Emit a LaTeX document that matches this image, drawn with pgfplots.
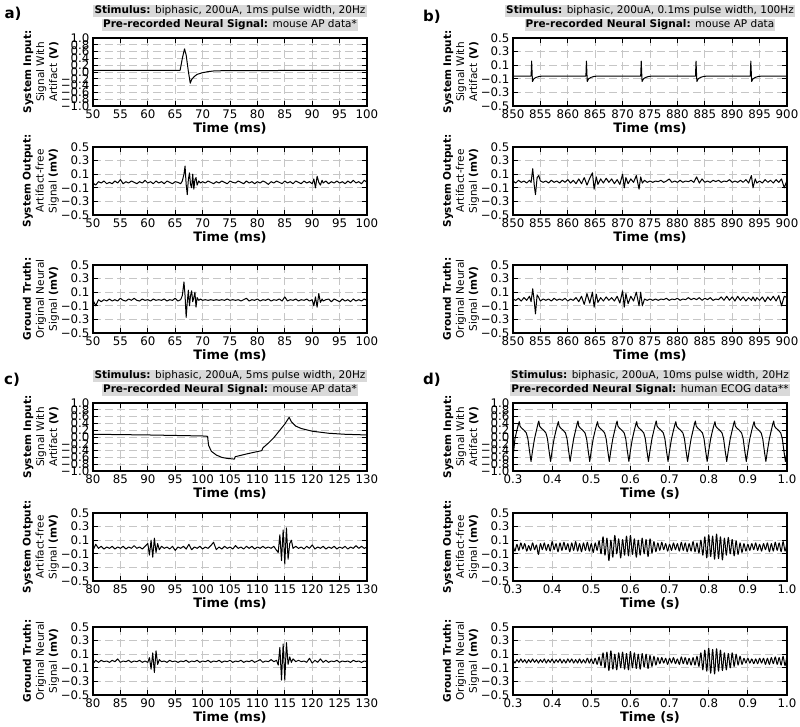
\documentclass[border=0pt]{standalone}
\usepackage{pgfplots}
\pgfplotsset{compat=1.18}
\usepackage{pgfplotstable}
\usepackage{fontspec}
\setmainfont{DejaVu Sans}

% panel a: output / ground truth (mV)
\pgfplotstableread{
t out gt
50.0 -0.03 -0.02
50.5 -0.06 -0.10
51.0 -0.01 -0.01
51.5 -0.03 -0.04
52.0 0.00 -0.01
52.5 -0.04 -0.03
53.0 -0.02 0.00
53.5 -0.04 -0.03
54.0 0.00 -0.01
54.5 -0.03 -0.03
55.0 0.02 0.01
55.5 -0.04 -0.02
56.0 -0.01 -0.03
56.5 -0.03 0.00
57.0 0.00 -0.02
57.5 -0.02 0.01
58.0 -0.04 -0.02
58.5 -0.01 -0.03
59.0 -0.03 0.00
59.5 0.01 -0.02
60.0 -0.03 -0.01
60.5 -0.01 -0.03
61.0 -0.04 0.00
61.5 0.00 -0.02
62.0 -0.03 -0.01
62.5 -0.01 -0.02
63.0 -0.04 0.00
63.5 0.00 -0.03
64.0 -0.02 -0.01
64.5 -0.04 -0.02
65.0 -0.01 0.01
65.5 -0.02 -0.03
66.0 -0.04 -0.01
66.3 0.00 0.05
66.6 0.10 0.25
66.8 0.22 0.05
67.0 -0.05 -0.27
67.2 -0.20 -0.05
67.4 0.02 0.13
67.6 0.12 -0.10
67.8 -0.05 0.05
68.0 -0.10 0.12
68.2 0.10 -0.04
68.4 -0.12 0.02
68.6 0.02 0.10
68.8 0.05 -0.12
69.0 -0.06 0.02
69.3 0.00 -0.02
69.6 -0.03 0.00
70.0 -0.01 -0.02
70.5 -0.03 -0.01
71.0 0.00 -0.02
71.5 -0.02 -0.01
72.0 -0.04 -0.02
72.5 -0.01 -0.01
73.0 -0.03 -0.02
73.5 0.00 -0.01
74.0 -0.02 -0.02
74.5 -0.04 0.00
75.0 0.00 -0.02
75.5 -0.02 -0.01
76.0 -0.03 -0.02
76.5 0.00 -0.01
77.0 -0.02 -0.03
77.5 -0.04 -0.01
78.0 0.00 0.01
78.5 -0.03 -0.03
79.0 -0.01 -0.01
79.5 -0.04 -0.02
80.0 -0.01 0.00
80.5 -0.03 -0.03
81.0 0.00 -0.01
81.5 -0.02 -0.02
82.0 -0.05 0.00
82.5 -0.01 -0.03
83.0 -0.03 -0.01
83.5 0.00 -0.02
84.0 -0.02 0.00
84.5 -0.04 -0.03
85.0 0.00 0.03
85.5 -0.03 -0.03
86.0 -0.01 -0.01
86.5 -0.04 -0.02
87.0 0.00 0.00
87.5 -0.02 -0.03
88.0 -0.04 -0.01
88.5 0.00 -0.02
89.0 -0.03 0.00
89.5 -0.01 -0.03
90.0 -0.04 -0.01
90.3 0.03 -0.10
90.6 -0.10 0.03
90.9 0.07 -0.12
91.2 -0.02 0.08
91.5 -0.06 -0.05
91.8 0.01 0.00
92.0 -0.03 -0.03
92.5 0.00 -0.01
93.0 -0.04 0.00
93.5 -0.01 -0.04
94.0 -0.03 0.00
94.5 0.00 -0.02
95.0 -0.03 -0.04
95.5 -0.01 0.00
96.0 -0.04 -0.03
96.5 0.00 -0.01
97.0 -0.03 -0.04
97.5 0.01 0.00
98.0 -0.03 -0.03
98.5 -0.01 -0.01
99.0 -0.04 -0.03
99.5 0.01 0.00
100.0 -0.02 -0.02
}\tabA

% panel b
\pgfplotstableread{
t out gt
850.0 0.00 0.00
850.5 -0.03 -0.02
851.0 0.01 0.01
851.5 -0.02 -0.03
852.0 0.00 0.02
852.5 -0.03 -0.02
853.0 0.01 0.04
853.3 -0.02 -0.04
853.6 0.18 0.15
853.9 -0.08 -0.05
854.1 -0.20 -0.22
854.4 0.05 0.06
854.7 0.08 0.02
855.0 0.00 -0.03
855.5 -0.02 0.00
856.0 0.00 -0.02
856.5 -0.03 0.00
857.0 0.01 -0.03
857.5 -0.02 0.01
858.0 0.00 -0.02
858.5 -0.03 0.00
859.0 0.01 -0.02
859.5 -0.02 0.01
860.0 0.02 -0.03
860.5 -0.03 0.00
861.0 0.01 -0.02
861.5 -0.04 0.02
862.0 0.03 -0.04
862.5 -0.04 0.04
863.0 0.05 -0.08
863.5 -0.06 0.08
864.0 0.04 -0.06
864.5 0.12 0.10
864.8 -0.12 -0.12
865.2 0.06 0.07
865.5 -0.05 -0.05
866.0 0.03 0.02
866.5 -0.03 -0.03
867.0 0.04 0.03
867.5 -0.02 -0.02
868.0 0.03 0.02
868.5 -0.04 -0.03
869.0 0.02 0.04
869.5 -0.05 -0.06
870.0 0.10 0.12
870.3 -0.10 -0.12
870.6 0.05 0.08
871.0 -0.04 -0.07
871.5 0.03 0.04
872.0 -0.02 -0.03
872.5 0.08 0.10
873.0 -0.12 -0.10
873.3 0.06 0.10
873.6 -0.03 -0.10
874.0 0.01 0.00
874.5 -0.02 -0.02
875.0 0.00 0.00
875.5 -0.02 -0.02
876.0 0.00 0.00
876.5 -0.01 -0.02
877.0 0.01 0.00
877.5 -0.02 -0.01
878.0 0.00 0.01
878.5 0.03 -0.02
879.0 -0.02 0.00
879.5 0.00 -0.01
880.0 -0.02 0.01
880.5 0.01 -0.02
881.0 -0.02 0.00
881.5 0.00 -0.01
882.0 -0.01 0.02
882.5 0.01 -0.01
883.0 -0.02 0.01
883.5 0.06 -0.01
884.0 -0.03 0.02
884.5 0.03 -0.02
885.0 -0.02 0.01
885.5 0.00 -0.01
886.0 -0.02 0.02
886.5 0.01 -0.02
887.0 -0.01 0.00
887.5 0.01 -0.01
888.0 -0.02 0.03
888.5 0.00 -0.02
889.0 -0.01 0.04
889.5 0.02 -0.02
890.0 -0.02 0.03
890.5 0.00 -0.03
891.0 -0.02 0.04
891.5 0.01 -0.02
892.0 -0.02 0.03
892.5 0.02 -0.03
893.0 -0.03 0.02
893.5 0.08 -0.02
893.8 -0.10 0.03
894.2 0.03 -0.03
894.5 -0.03 0.02
895.0 0.00 -0.02
895.5 -0.03 0.03
896.0 0.02 -0.04
896.5 -0.02 0.03
897.0 0.01 -0.02
897.5 -0.03 0.04
898.0 0.02 -0.03
898.5 -0.02 0.05
899.0 0.03 -0.10
899.5 -0.10 0.04
900.0 0.01 0.02
}\tabB

% panel c
\pgfplotstableread{
t out gt
80.0 -0.05 -0.04
80.5 0.04 0.01
81.0 -0.02 -0.02
81.5 0.01 0.01
82.0 -0.03 -0.01
82.5 0.00 0.00
83.0 -0.02 -0.02
83.5 0.01 0.01
84.0 -0.03 -0.01
84.5 0.00 0.03
85.0 -0.02 -0.02
85.5 0.01 0.00
86.0 -0.03 -0.01
86.5 0.00 0.01
87.0 -0.02 -0.02
87.5 0.02 0.00
88.0 -0.02 -0.01
88.5 0.00 0.01
89.0 -0.03 -0.02
89.5 0.01 0.00
90.0 0.05 -0.02
90.3 -0.12 0.05
90.6 0.10 -0.12
90.9 -0.15 0.12
91.2 0.13 -0.17
91.5 -0.08 0.15
91.8 0.05 -0.05
92.1 -0.04 0.02
92.5 0.01 -0.01
93.0 -0.02 0.00
93.5 0.00 -0.02
94.0 -0.03 0.01
94.5 0.01 -0.01
95.0 -0.05 0.00
95.5 0.00 -0.02
96.0 -0.02 0.00
96.5 0.01 -0.01
97.0 -0.03 0.01
97.5 0.04 -0.02
98.0 -0.04 0.00
98.5 0.00 -0.01
99.0 -0.02 0.01
99.5 0.01 -0.02
100.0 -0.03 0.00
100.5 0.00 -0.01
101.0 -0.02 0.01
101.5 0.02 -0.02
102.0 0.07 0.00
102.5 -0.04 -0.01
103.0 0.00 0.01
103.5 -0.03 -0.02
104.0 0.01 0.00
104.5 -0.02 -0.01
105.0 0.00 0.01
105.5 -0.03 -0.02
106.0 0.02 0.00
106.5 -0.02 -0.01
107.0 0.00 0.01
107.5 -0.03 -0.02
108.0 0.01 0.00
108.5 -0.02 -0.01
109.0 0.01 0.01
109.5 -0.03 -0.02
110.0 0.00 0.00
110.5 -0.02 0.02
111.0 0.01 -0.02
111.5 -0.02 0.00
112.0 0.00 -0.01
112.5 -0.02 0.02
113.0 0.01 -0.01
113.5 -0.05 0.01
113.8 -0.08 -0.06
114.1 0.18 0.20
114.4 -0.20 -0.28
114.7 0.25 0.25
115.0 -0.25 -0.28
115.3 0.28 0.27
115.6 -0.18 -0.05
115.9 0.05 0.06
116.2 0.10 -0.02
116.5 -0.02 0.03
117.0 0.01 -0.01
117.5 -0.02 0.01
118.0 0.00 -0.01
118.5 -0.03 0.00
119.0 0.01 -0.02
119.5 -0.02 0.04
120.0 0.03 -0.03
120.5 -0.03 0.01
121.0 0.00 -0.02
121.5 -0.02 0.03
122.0 0.01 -0.02
122.5 -0.03 0.01
123.0 0.00 -0.02
123.5 -0.02 0.00
124.0 0.01 -0.01
124.5 -0.03 0.01
125.0 0.00 -0.02
125.5 -0.02 0.00
126.0 0.01 -0.01
126.5 -0.03 0.00
127.0 0.00 -0.02
127.5 -0.02 0.01
128.0 0.02 -0.01
128.5 -0.02 0.00
129.0 0.01 -0.02
129.5 -0.02 0.00
130.0 0.00 -0.01
}\tabC

% panel d (time in s)
\pgfplotstableread{
t out gt
0.300 0.03 0.02
0.305 -0.06 -0.03
0.310 0.04 0.02
0.315 -0.05 -0.02
0.320 0.06 0.03
0.325 -0.03 -0.02
0.330 0.05 0.02
0.335 -0.06 -0.03
0.340 0.02 0.02
0.345 -0.05 -0.02
0.350 0.06 0.03
0.355 -0.04 -0.02
0.360 0.03 0.02
0.365 -0.11 -0.03
0.370 0.05 0.02
0.375 -0.04 -0.02
0.380 0.06 0.03
0.385 -0.05 -0.03
0.390 0.04 0.02
0.395 -0.06 -0.02
0.400 0.08 0.03
0.405 -0.04 -0.03
0.410 0.05 0.02
0.415 -0.07 -0.02
0.420 0.06 0.03
0.425 -0.05 -0.03
0.430 0.07 0.02
0.435 -0.04 -0.03
0.440 0.05 0.03
0.445 -0.07 -0.02
0.450 0.06 0.03
0.455 -0.05 -0.03
0.460 0.08 0.02
0.465 -0.06 -0.03
0.470 0.05 0.03
0.475 -0.07 -0.03
0.480 0.06 0.02
0.485 -0.05 -0.03
0.490 0.07 0.04
0.495 -0.06 -0.03
0.500 0.05 0.03
0.505 -0.08 -0.04
0.510 0.06 0.04
0.515 -0.05 -0.05
0.520 0.09 0.06
0.525 -0.10 -0.07
0.530 0.15 0.12
0.535 -0.12 -0.10
0.540 0.13 0.13
0.545 -0.20 -0.14
0.550 0.10 0.15
0.555 -0.15 -0.12
0.560 0.17 0.10
0.565 -0.10 -0.13
0.570 0.12 0.12
0.575 -0.16 -0.10
0.580 0.11 0.13
0.585 -0.12 -0.12
0.590 0.16 0.11
0.595 -0.13 -0.13
0.600 0.17 0.14
0.605 -0.11 -0.10
0.610 0.12 0.12
0.615 -0.15 -0.11
0.620 0.10 0.10
0.625 -0.12 -0.12
0.630 0.13 0.11
0.635 -0.10 -0.09
0.640 0.11 0.10
0.645 -0.14 -0.11
0.650 0.12 0.08
0.655 -0.09 -0.08
0.660 0.08 0.07
0.665 -0.07 -0.06
0.670 0.06 0.05
0.675 -0.05 -0.04
0.680 0.07 0.05
0.685 -0.04 -0.03
0.690 0.05 0.04
0.695 -0.06 -0.05
0.700 0.04 0.04
0.705 -0.05 -0.03
0.710 0.06 0.05
0.715 -0.04 -0.04
0.720 0.05 0.03
0.725 -0.06 -0.05
0.730 0.07 0.06
0.735 -0.05 -0.04
0.740 0.06 0.05
0.745 -0.07 -0.05
0.750 0.05 0.04
0.755 -0.06 -0.06
0.760 0.08 0.05
0.765 -0.07 -0.06
0.770 0.06 0.07
0.775 -0.09 -0.08
0.780 0.10 0.12
0.785 -0.12 -0.13
0.790 0.15 0.16
0.795 -0.16 -0.15
0.800 0.18 0.19
0.805 -0.14 -0.18
0.810 0.16 0.17
0.815 -0.18 -0.19
0.820 0.19 0.18
0.825 -0.17 -0.15
0.830 0.15 0.16
0.835 -0.19 -0.14
0.840 0.13 0.12
0.845 -0.12 -0.13
0.850 0.14 0.11
0.855 -0.10 -0.10
0.860 0.11 0.12
0.865 -0.13 -0.08
0.870 0.09 0.10
0.875 -0.11 -0.06
0.880 0.06 0.07
0.885 -0.08 -0.05
0.890 0.05 0.04
0.895 -0.06 -0.03
0.900 0.04 0.04
0.905 -0.05 -0.03
0.910 0.05 0.03
0.915 -0.04 -0.04
0.920 0.06 0.03
0.925 -0.05 -0.04
0.930 0.04 0.04
0.935 -0.06 -0.03
0.940 0.05 0.04
0.945 -0.04 -0.05
0.950 0.06 0.04
0.955 -0.07 -0.05
0.960 0.05 0.05
0.965 -0.06 -0.04
0.970 0.07 0.06
0.975 -0.05 -0.05
0.980 0.06 0.05
0.985 -0.07 -0.06
0.990 0.08 0.07
0.995 -0.06 -0.07
1.000 0.07 0.09
}\tabD

\pgfplotsset{
  sig/.style={
    scale only axis, width=274pt, height=68pt, anchor=north west,
    axis line style={line width=1.2pt},
    grid=major,
    major grid style={gray!45, line width=0.8pt, dash pattern=on 8pt off 4pt},
    tick align=inside, major tick length=5pt,
    tick style={black, line width=0.9pt},
    ticklabel style={font=\fontsize{11.8}{12}\selectfont},
    xlabel={Time (ms)},
    xlabel style={font=\fontsize{13}{14}\selectfont\bfseries, yshift=3pt},
    ylabel style={at={(axis description cs:-0.19,0.5)}, anchor=center,
      align=center, font=\fontsize{10.5}{13}\selectfont},
    every axis plot post/.append style={black, mark=none, line width=1.3pt, line join=round},
  },
  thin/.style={every axis plot post/.append style={line width=1pt}},
  mv/.style={ymin=-0.5, ymax=0.5, ytick={-0.5,-0.3,-0.1,0.1,0.3,0.5},
    yticklabels={−0.5,−0.3,−0.1,0.1,0.3,0.5}},
  vv/.style={ymin=-1, ymax=1, ytick={-1,-0.8,-0.6,-0.4,-0.2,0,0.2,0.4,0.6,0.8,1},
    yticklabels={−1.0,−0.8,−0.6,−0.4,−0.2,0.0,0.2,0.4,0.6,0.8,1.0}},
  ta/.style={xmin=50, xmax=100, xtick={50,55,60,65,70,75,80,85,90,95,100},
    xticklabels={50,55,60,65,70,75,80,85,90,95,100}},
  tb/.style={xmin=850, xmax=900, xtick={850,855,860,865,870,875,880,885,890,895,900},
    xticklabels={850,855,860,865,870,875,880,885,890,895,900}},
  tc/.style={xmin=80, xmax=130, xtick={80,85,90,95,100,105,110,115,120,125,130},
    xticklabels={80,85,90,95,100,105,110,115,120,125,130}},
  td/.style={xmin=0.3, xmax=1.0, xtick={0.3,0.4,0.5,0.6,0.7,0.8,0.9,1.0},
    xticklabels={0.3,0.4,0.5,0.6,0.7,0.8,0.9,1.0}, xlabel={Time (s)}},
  lin/.style={ylabel={\textbf{System Input:}\\Signal With\\Artifact \textbf{(V)}}},
  lout/.style={ylabel={\textbf{System Output:}\\Artifact-free\\Signal \textbf{(mV)}}},
  lgt/.style={ylabel={\textbf{Ground Truth:}\\Original Neural\\Signal \textbf{(mV)}}},
}

\tikzset{ttl/.style={fill=gray!30, inner sep=1.2pt, font=\fontsize{10.5}{12}\selectfont},
  pl/.style={font=\fontsize{15}{16}\selectfont\bfseries}}

\begin{document}
\begin{tikzpicture}
\path[use as bounding box] (0pt,0pt) rectangle (800pt,727pt);

% ---------- panel a ----------
\node[pl] at (13pt,713pt) {a)};
\node[ttl] at (230pt,716pt) {\textbf{Stimulus:} biphasic, 200uA, 1ms pulse width, 20Hz};
\node[ttl] at (230pt,702pt) {\textbf{Pre-recorded Neural Signal:} mouse AP data*};
\begin{axis}[sig, thin, ta, vv, lin, at={(93pt,689pt)}]
\addplot coordinates {(50,0.05) (65.9,0.05) (66.3,0.40) (66.7,0.68) (67.0,0.50) (67.4,0.02)
 (67.75,-0.33) (68.0,-0.22) (68.5,-0.13) (69,-0.07) (70,-0.02) (71,0.01) (72,0.03) (74,0.04) (100,0.05)};
\end{axis}
\begin{axis}[sig, ta, mv, lout, at={(93pt,580pt)}]
\addplot table[x=t, y=out] {\tabA};
\end{axis}
\begin{axis}[sig, ta, mv, lgt, at={(93pt,462pt)}]
\addplot table[x=t, y=gt] {\tabA};
\end{axis}

% ---------- panel b ----------
\node[pl] at (432pt,710pt) {b)};
\node[ttl] at (650pt,716pt) {\textbf{Stimulus:} biphasic, 200uA, 0.1ms pulse width, 100Hz};
\node[ttl] at (650pt,702pt) {\textbf{Pre-recorded Neural Signal:} mouse AP data};
\begin{axis}[sig, tb, mv, lin, at={(513pt,689pt)}]
\addplot coordinates {(850,-0.06) (853.3,-0.06) (853.4,0.16) (853.55,-0.14) (853.8,-0.10) (854.2,-0.08) (854.8,-0.065) (855.5,-0.06)
 (863.3,-0.06) (863.4,0.16) (863.55,-0.14) (863.8,-0.10) (864.2,-0.08) (864.8,-0.065) (865.5,-0.06)
 (873.3,-0.06) (873.4,0.16) (873.55,-0.14) (873.8,-0.10) (874.2,-0.08) (874.8,-0.065) (875.5,-0.06)
 (883.3,-0.06) (883.4,0.16) (883.55,-0.14) (883.8,-0.10) (884.2,-0.08) (884.8,-0.065) (885.5,-0.06)
 (893.3,-0.06) (893.4,0.16) (893.55,-0.14) (893.8,-0.10) (894.2,-0.08) (894.8,-0.065) (895.5,-0.06) (900,-0.06)};
\end{axis}
\begin{axis}[sig, tb, mv, lout, at={(513pt,580pt)}]
\addplot table[x=t, y=out] {\tabB};
\end{axis}
\begin{axis}[sig, tb, mv, lgt, at={(513pt,462pt)}]
\addplot table[x=t, y=gt] {\tabB};
\end{axis}

% ---------- panel c ----------
\node[pl] at (12pt,347pt) {c)};
\node[ttl] at (230pt,351pt) {\textbf{Stimulus:} biphasic, 200uA, 5ms pulse width, 20Hz};
\node[ttl] at (230pt,337pt) {\textbf{Pre-recorded Neural Signal:} mouse AP data*};
\begin{axis}[sig, thin, tc, vv, lin, at={(93pt,324pt)}]
\addplot coordinates {(80,0.08) (90,0.06) (100,0.03) (100.9,0.02) (101.1,-0.25) (101.6,-0.42) (102.5,-0.53)
 (103.5,-0.60) (104.5,-0.63) (105.8,-0.65) (105.95,-0.58) (108,-0.50) (110.8,-0.40) (111.0,-0.32)
 (112,-0.18) (113,-0.02) (114,0.18) (115,0.38) (115.8,0.58) (116.2,0.45) (117,0.32) (118,0.25)
 (120,0.17) (123,0.11) (126,0.08) (130,0.06)};
\end{axis}
\begin{axis}[sig, tc, mv, lout, at={(93pt,214pt)}]
\addplot table[x=t, y=out] {\tabC};
\end{axis}
\begin{axis}[sig, tc, mv, lgt, at={(93pt,100pt)}]
\addplot table[x=t, y=gt] {\tabC};
\end{axis}

% ---------- panel d ----------
\node[pl] at (432pt,347pt) {d)};
\node[ttl] at (650pt,351pt) {\textbf{Stimulus:} biphasic, 200uA, 10ms pulse width, 20Hz};
\node[ttl] at (650pt,337pt) {\textbf{Pre-recorded Neural Signal:} human ECOG data**};
\begin{axis}[sig, td, vv, lin, at={(513pt,324pt)}]
\addplot coordinates {
 (0.300,-0.60) (0.305,-0.05) (0.310,0.20) (0.314,0.38) (0.316,0.45) (0.318,0.32) (0.322,0.26) (0.328,0.20) (0.334,0.12) (0.338,-0.05) (0.342,-0.40) (0.346,-0.72)
 (0.350,-0.40) (0.355,-0.05) (0.360,0.20) (0.364,0.40) (0.366,0.47) (0.368,0.32) (0.372,0.26) (0.378,0.20) (0.384,0.12) (0.388,-0.05) (0.392,-0.40) (0.396,-0.72)
 (0.400,-0.40) (0.405,-0.05) (0.410,0.20) (0.414,0.38) (0.416,0.45) (0.418,0.32) (0.422,0.26) (0.428,0.20) (0.434,0.12) (0.438,-0.05) (0.442,-0.40) (0.446,-0.72)
 (0.450,-0.40) (0.455,-0.05) (0.460,0.20) (0.464,0.40) (0.466,0.47) (0.468,0.32) (0.472,0.26) (0.478,0.20) (0.484,0.12) (0.488,-0.05) (0.492,-0.40) (0.496,-0.72)
 (0.500,-0.40) (0.505,-0.05) (0.510,0.20) (0.514,0.38) (0.516,0.45) (0.518,0.32) (0.522,0.26) (0.528,0.20) (0.534,0.12) (0.538,-0.05) (0.542,-0.40) (0.546,-0.72)
 (0.550,-0.40) (0.555,-0.05) (0.560,0.20) (0.564,0.40) (0.566,0.47) (0.568,0.32) (0.572,0.26) (0.578,0.20) (0.584,0.12) (0.588,-0.05) (0.592,-0.40) (0.596,-0.72)
 (0.600,-0.40) (0.605,-0.05) (0.610,0.20) (0.614,0.38) (0.616,0.45) (0.618,0.32) (0.622,0.26) (0.628,0.20) (0.634,0.12) (0.638,-0.05) (0.642,-0.40) (0.646,-0.72)
 (0.650,-0.40) (0.655,-0.05) (0.660,0.20) (0.664,0.40) (0.666,0.47) (0.668,0.32) (0.672,0.26) (0.678,0.20) (0.684,0.12) (0.688,-0.05) (0.692,-0.40) (0.696,-0.72)
 (0.700,-0.40) (0.705,-0.05) (0.710,0.20) (0.714,0.38) (0.716,0.45) (0.718,0.32) (0.722,0.26) (0.728,0.20) (0.734,0.12) (0.738,-0.05) (0.742,-0.40) (0.746,-0.72)
 (0.750,-0.40) (0.755,-0.05) (0.760,0.20) (0.764,0.40) (0.766,0.47) (0.768,0.32) (0.772,0.26) (0.778,0.20) (0.784,0.12) (0.788,-0.05) (0.792,-0.40) (0.796,-0.72)
 (0.800,-0.40) (0.805,-0.05) (0.810,0.20) (0.814,0.38) (0.816,0.45) (0.818,0.32) (0.822,0.26) (0.828,0.20) (0.834,0.12) (0.838,-0.05) (0.842,-0.40) (0.846,-0.72)
 (0.850,-0.40) (0.855,-0.05) (0.860,0.20) (0.864,0.40) (0.866,0.47) (0.868,0.32) (0.872,0.26) (0.878,0.20) (0.884,0.12) (0.888,-0.05) (0.892,-0.40) (0.896,-0.72)
 (0.900,-0.40) (0.905,-0.05) (0.910,0.20) (0.914,0.38) (0.916,0.45) (0.918,0.32) (0.922,0.26) (0.928,0.20) (0.934,0.12) (0.938,-0.05) (0.942,-0.40) (0.946,-0.72)
 (0.950,-0.40) (0.955,-0.05) (0.960,0.20) (0.964,0.40) (0.966,0.47) (0.968,0.32) (0.972,0.26) (0.978,0.20) (0.984,0.12) (0.988,-0.05) (0.992,-0.40) (0.996,-0.72)
 (1.000,-0.45)};
\end{axis}
\begin{axis}[sig, td, mv, lout, at={(513pt,214pt)}]
\addplot+[smooth] table[x=t, y=out] {\tabD};
\end{axis}
\begin{axis}[sig, td, mv, lgt, at={(513pt,100pt)}]
\addplot+[smooth] table[x=t, y=gt] {\tabD};
\end{axis}
\end{tikzpicture}
\end{document}
